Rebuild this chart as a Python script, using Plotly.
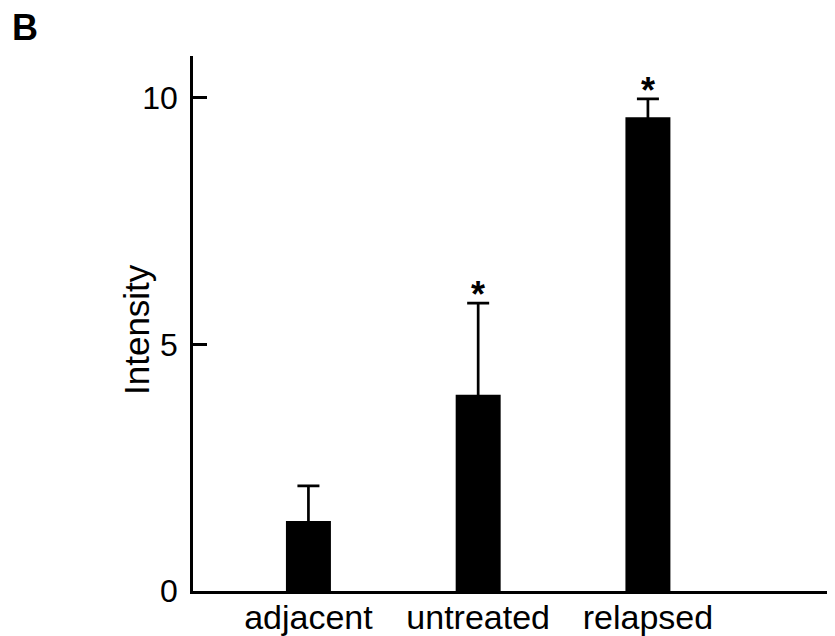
import plotly.graph_objects as go

categories = ["adjacent", "untreated", "relapsed"]
values = [1.42, 3.98, 9.61]
errors = [0.71, 1.86, 0.37]
significant = [False, True, True]
y_ticks = [0, 5, 10]

# page has an 8px body margin; figure coordinates = page coordinates - 8
W, H = 819, 628
L, R, T, B = 185, 0, 48, 45
pw, ph = W - L - R, H - T - B
FONT = "Liberation Sans, Arial, sans-serif"

fig = go.Figure()
fig.add_trace(go.Bar(
    x=categories, y=values, width=0.265,
    marker=dict(color="black", line=dict(width=0)),
    error_y=dict(type="data", array=errors, symmetric=False,
                 arrayminus=[0.08] * len(errors),
                 color="black", thickness=2.7, width=11, visible=True),
    showlegend=False,
))

for c, v, e, s in zip(categories, values, errors, significant):
    if s:
        fig.add_annotation(x=c, y=v + e, xref="x", yref="y", text="<b>*</b>", showarrow=False,
                           yanchor="bottom", yshift=-14,
                           font=dict(family=FONT, size=36, color="black"))

fig.add_annotation(x=(129 - L) / pw, y=(H - B - 322) / ph, xref="paper", yref="paper",
                   text="Intensity", textangle=-90, showarrow=False,
                   xanchor="center", yanchor="middle",
                   font=dict(family=FONT, size=35, color="black"))
fig.add_annotation(x=(2 - L) / pw, y=(H - B - 19) / ph, xref="paper", yref="paper",
                   text="<b>B</b>", showarrow=False, xanchor="left", yanchor="middle",
                   font=dict(family=FONT, size=36, color="black"))

fig.update_layout(
    width=W, height=H,
    margin=dict(l=L, r=R, t=T, b=B, pad=0, autoexpand=False),
    paper_bgcolor="white", plot_bgcolor="white",
    font=dict(family=FONT, color="black"),
    xaxis=dict(type="category", range=[-0.68, 3.055], showline=True, linecolor="black",
               linewidth=2.5, ticks="", showgrid=False, zeroline=False, automargin=False,
               tickfont=dict(size=34, family=FONT, color="black"), ticklabelstandoff=-6),
    yaxis=dict(range=[0, 10.85], tickvals=y_ticks, ticktext=[str(t) for t in y_ticks],
               showline=True, linecolor="black", linewidth=2.5, ticks="inside",
               ticklen=14, tickwidth=2.5, tickcolor="black", showgrid=False, zeroline=False,
               automargin=False,
               tickfont=dict(size=32, family=FONT, color="black"), ticklabelstandoff=6),
)

fig.write_html("out.html")
